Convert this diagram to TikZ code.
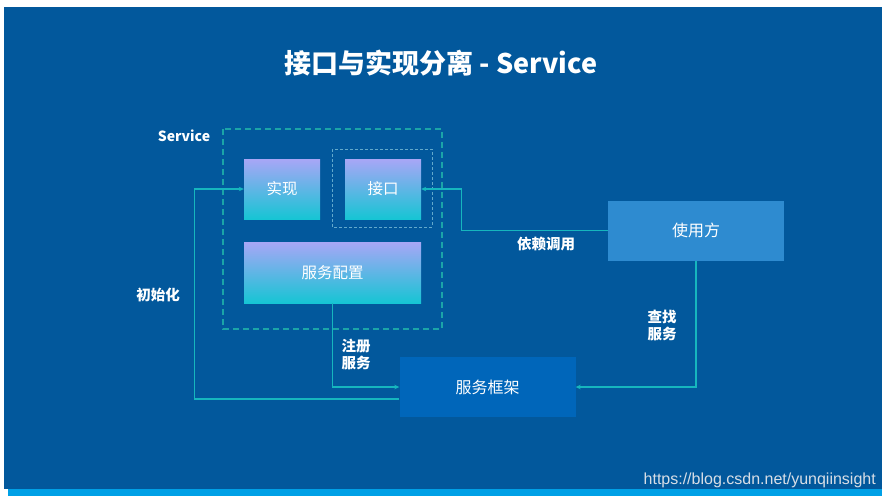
\documentclass[tikz,border=0pt]{standalone}
\usepackage{fontspec}
\setmainfont{Noto Sans CJK SC}
\newfontfamily\urlfont{Liberation Sans}
\usepackage{xcolor}
\usetikzlibrary{calc,positioning,arrows.meta}
\definecolor{slide}{HTML}{02589C}
\definecolor{strip}{HTML}{00A0E6}
\definecolor{boxtop}{HTML}{A8A6F6}
\definecolor{boxbot}{HTML}{16C5D4}
\definecolor{userblue}{HTML}{2E8BD0}
\definecolor{frameblue}{HTML}{0066BA}
\definecolor{linkteal}{HTML}{16B6BE}
\definecolor{dashteal}{HTML}{1BA4A8}
\definecolor{dotblue}{HTML}{62A9CC}
\definecolor{marktext}{HTML}{D8DEE6}

\begin{document}
\begin{tikzpicture}[
  x=1pt, y=-1pt,
  gradbox/.style={
    rectangle, top color=boxtop, bottom color=boxbot,
    inner sep=0pt, text=white,
    font=\fontsize{15.5}{18}\selectfont,
  },
  solidbox/.style={
    rectangle, inner sep=0pt, text=white,
    minimum width=176pt, minimum height=60pt,
    font=\fontsize{16}{18}\selectfont,
  },
  flowlabel/.style={
    text=white, align=left, inner sep=0pt,
    font=\fontsize{14.5}{17}\selectfont\bfseries,
  },
  flow/.style={
    draw=linkteal, line width=1.1pt,
    -{Stealth[length=5pt,width=4.5pt]},
  },
]
\useasboundingbox (0,0) rectangle (885,499);

% Background
\fill[white] (0,0) rectangle (885,499);
\fill[slide] (4,7) rectangle (882,489);
\fill[strip] (8,489) rectangle (882,496);

% Title
\node[text=white, font=\fontsize{27}{31}\selectfont\bfseries] (title) at (441,63) {接口与实现分离 - Service};

% Service group
\draw[dashteal, line width=1.1pt, dash pattern=on 6pt off 4pt] (223,129) rectangle (442,329);
\node[text=white, font=\fontsize{14}{16}\selectfont\bfseries] (svclabel) at (184,136) {Service};
\draw[dotblue, line width=0.8pt, dash pattern=on 3pt off 2pt] (332,149) rectangle (432,227);

\node[gradbox, minimum width=76pt, minimum height=60pt] (impl) at (282,189) {实现};
\node[gradbox, minimum width=76pt, minimum height=60pt] (iface) at (383,189) {接口};
\node[gradbox, minimum width=177pt, minimum height=61pt] (config) at (332.5,272.5) {服务配置};

% Outside boxes
\node[solidbox, fill=userblue] (user) at (696,230.5) {使用方};
\node[solidbox, fill=frameblue] (frame) at (487.5,387) {服务框架};

% Connectors
\draw[flow] (user.west) -- ++(-146,0) |- (iface.east);
\draw[flow] (user.south) |- (frame.east);
\draw[flow] (config.south) |- (frame.west);
\draw[flow] ([yshift=-12pt]frame.west) -- ++(-205,0) |- (impl.west);

% Labels
\node[flowlabel] (calllabel) at (546,244) {依赖调用};
\node[flowlabel] (findlabel) at (662,325) {查找\\服务};
\node[flowlabel] (reglabel) at (356,354) {注册\\服务};
\node[flowlabel] (initlabel) at (158,295) {初始化};

% Watermark
\node[anchor=east, text=marktext, inner sep=0pt, font=\urlfont\fontsize{16}{18}\selectfont] (mark) at (876,480) {https://blog.csdn.net/yunqiinsight};

\end{tikzpicture}
\end{document}
